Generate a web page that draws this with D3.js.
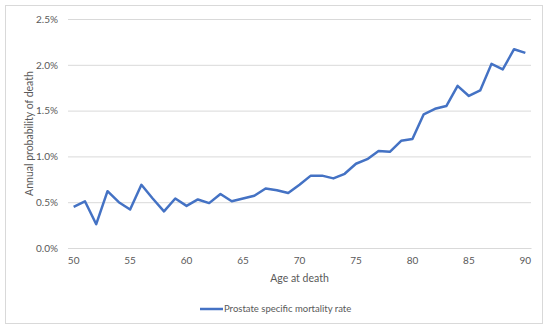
<!DOCTYPE html>
<html>
<head>
<meta charset="utf-8">
<script src="https://cdn.jsdelivr.net/npm/d3@7"></script>
<style>
  body { margin: 0; background: #fff; }
  text { font-family: Lato, "Open Sans", sans-serif; fill: #595959; }
</style>
</head>
<body>
<div id="chart"></div>
<script>
// Ages (category axis) and annual prostate specific mortality rate, in %
const ages = d3.range(50, 91);
const rates = [
    0.45, 0.51, 0.26, 0.62, 0.50, 0.42, 0.69, 0.54, 0.40, 0.54,
    0.46, 0.53, 0.49, 0.59, 0.51, 0.54, 0.57, 0.65, 0.63, 0.60,
    0.69, 0.79, 0.79, 0.76, 0.81, 0.92, 0.97, 1.06, 1.05, 1.17,
    1.19, 1.46, 1.52, 1.55, 1.77, 1.66, 1.72, 2.01, 1.95, 2.17,
    2.13
];
const xTicks = [50, 55, 60, 65, 70, 75, 80, 85, 90];
const yTicks = [0, 0.5, 1.0, 1.5, 2.0, 2.5];
const seriesName = 'Prostate specific mortality rate';

const data = ages.map((a, i) => ({ age: a, rate: rates[i] }));

const width = 550, height = 330;
const margin = { top: 19, right: 19, bottom: 82, left: 68 };
const chartWidth = width - margin.left - margin.right;
const chartHeight = height - margin.top - margin.bottom;

const svg = d3.select('#chart')
    .append('svg')
    .attr('width', width)
    .attr('height', height);

// Rahmen chart area
svg.append('rect')
    .attr('x', 5.5).attr('y', 5.5)
    .attr('width', 537).attr('height', 318)
    .attr('fill', '#fff')
    .attr('stroke', '#d9d9d9');

const chart = svg.append('g')
    .attr('transform', `translate(${margin.left}, ${margin.top})`);

const xScale = d3.scaleBand()
    .domain(ages)
    .range([0, chartWidth]);

const yScale = d3.scaleLinear()
    .domain([0, 2.5])
    .range([chartHeight, 0]);

// gridlines
const yAxis = d3.axisLeft(yScale)
    .tickValues(yTicks)
    .tickSize(-chartWidth)
    .tickPadding(10)
    .tickFormat(d => d.toFixed(1) + '%');
const yG = chart.append('g').call(yAxis);
yG.select('.domain').remove();
yG.selectAll('.tick line').attr('stroke', '#d9d9d9');
yG.selectAll('.tick text').style('font-size', '10px');

const xAxis = d3.axisBottom(xScale)
    .tickValues(xTicks)
    .tickSize(0)
    .tickPadding(9);
const xG = chart.append('g')
    .attr('transform', `translate(0, ${chartHeight})`)
    .call(xAxis);
xG.select('.domain').attr('stroke', '#d9d9d9');
xG.selectAll('.tick text').style('font-size', '10px');

// garis data
const line = d3.line()
    .x(d => xScale(d.age) + xScale.bandwidth() / 2)
    .y(d => yScale(d.rate));

chart.append('path')
    .datum(data)
    .attr('fill', 'none')
    .attr('stroke', '#4472c4')
    .attr('stroke-width', 2.5)
    .attr('stroke-linejoin', 'round')
    .attr('d', line);

// judul sumbu
svg.append('text')
    .attr('x', margin.left + chartWidth / 2)
    .attr('y', 282)
    .attr('text-anchor', 'middle')
    .style('font-size', '10.5px')
    .text('Age at death');

svg.append('text')
    .attr('transform', `translate(33, ${margin.top + chartHeight / 2}) rotate(-90)`)
    .attr('text-anchor', 'middle')
    .style('font-size', '10.5px')
    .text('Annual probability of death');

// legend
const legend = svg.append('g').attr('transform', 'translate(200, 309)');
legend.append('line')
    .attr('x1', 0).attr('x2', 23)
    .attr('stroke', '#4472c4')
    .attr('stroke-width', 2.5);
legend.append('text')
    .attr('x', 24)
    .attr('dy', '0.35em')
    .style('font-size', '9.5px')
    .text(seriesName);
</script>
</body>
</html>
